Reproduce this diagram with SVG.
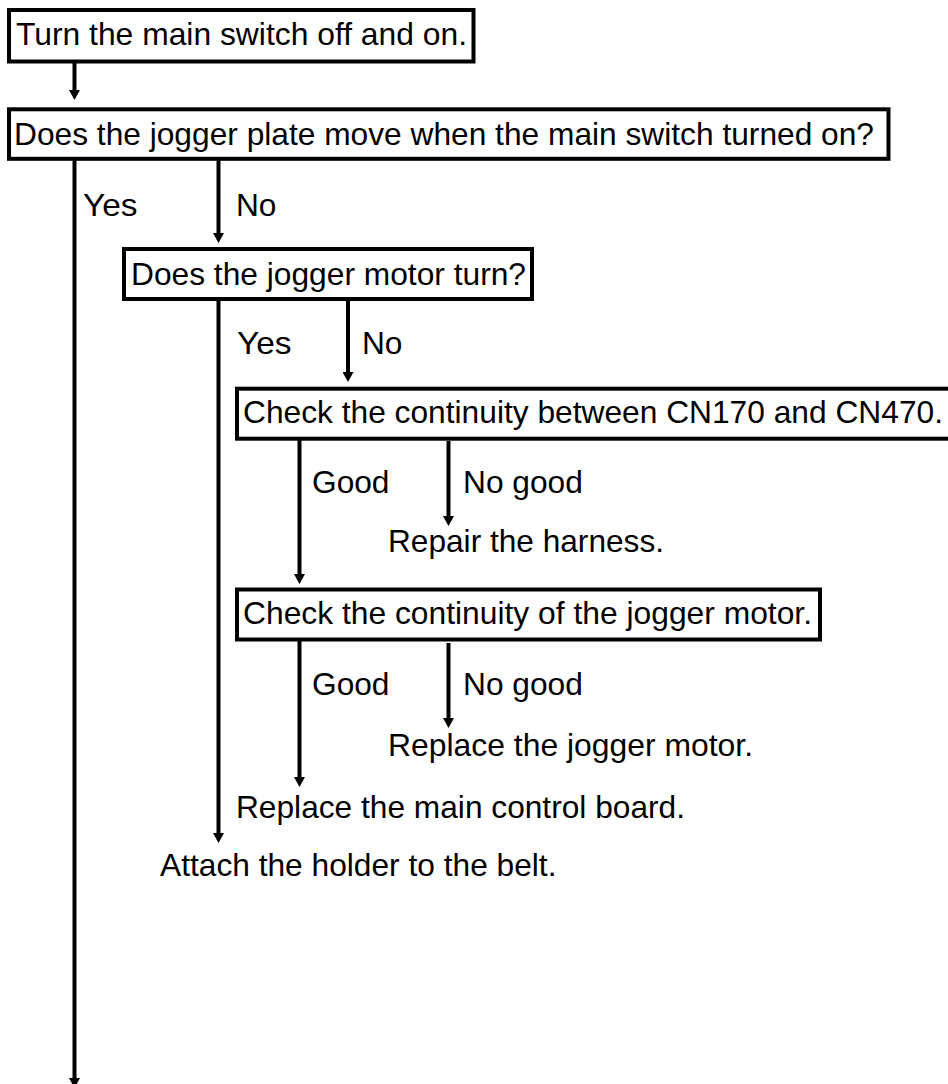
<svg xmlns="http://www.w3.org/2000/svg" width="948" height="1084" viewBox="0 0 948 1084">
<style>
.box{fill:#fff;stroke:#000;stroke-width:4}
.t{font-family:"Liberation Sans",Arial,sans-serif;font-size:30.5px;fill:#000}
.c{stroke:#000;stroke-width:4;fill:none;marker-end:url(#ah)}
</style>
<defs>
<marker id="ah" viewBox="0 0 10 11" markerWidth="10" markerHeight="11" refX="0" refY="5.5" orient="auto" markerUnits="userSpaceOnUse">
<path d="M0,0 L10,5.5 L0,11 z" fill="#000"/>
</marker>
</defs>
<rect width="948" height="1084" fill="#fff"/>
<g id="connectors">
<line class="c" x1="74.5" y1="61" x2="74.5" y2="90"/>
<line class="c" x1="74.5" y1="159" x2="74.5" y2="1078"/>
<line class="c" x1="218.5" y1="159" x2="218.5" y2="233"/>
<line class="c" x1="218.5" y1="299" x2="218.5" y2="833"/>
<line class="c" x1="348" y1="299" x2="348" y2="372"/>
<line class="c" x1="299.5" y1="439" x2="299.5" y2="574"/>
<line class="c" x1="448.5" y1="441" x2="448.5" y2="516"/>
<line class="c" x1="299.5" y1="639" x2="299.5" y2="777"/>
<line class="c" x1="448.5" y1="643" x2="448.5" y2="718"/>
</g>
<g id="labels">
<text class="t" x="83" y="216" textLength="54.6" lengthAdjust="spacingAndGlyphs">Yes</text>
<text class="t" x="236" y="216" textLength="40.5" lengthAdjust="spacingAndGlyphs">No</text>
<text class="t" x="237" y="354" textLength="54.6" lengthAdjust="spacingAndGlyphs">Yes</text>
<text class="t" x="362" y="354" textLength="40.5" lengthAdjust="spacingAndGlyphs">No</text>
<text class="t" x="312" y="493" textLength="77.5" lengthAdjust="spacingAndGlyphs">Good</text>
<text class="t" x="463" y="493" textLength="119.8" lengthAdjust="spacingAndGlyphs">No good</text>
<text class="t" x="312" y="695" textLength="77.5" lengthAdjust="spacingAndGlyphs">Good</text>
<text class="t" x="463" y="695" textLength="119.8" lengthAdjust="spacingAndGlyphs">No good</text>
</g>
<g id="n1">
<rect class="box" x="9" y="10" width="464.5" height="51.5"/>
<text class="t" x="16" y="45" textLength="451" lengthAdjust="spacingAndGlyphs">Turn the main switch off and on.</text>
</g>
<g id="n2">
<rect class="box" x="9" y="109.3" width="879.5" height="49.5"/>
<text class="t" x="14" y="144.5" textLength="860" lengthAdjust="spacingAndGlyphs">Does the jogger plate move when the main switch turned on?</text>
</g>
<g id="n3">
<rect class="box" x="124" y="249" width="408" height="50"/>
<text class="t" x="131" y="284.5" textLength="395" lengthAdjust="spacingAndGlyphs">Does the jogger motor turn?</text>
</g>
<g id="n4">
<rect class="box" x="237" y="388.7" width="716" height="50"/>
<text class="t" x="243" y="423" textLength="700" lengthAdjust="spacingAndGlyphs">Check the continuity between CN170 and CN470.</text>
</g>
<g id="n5">
<text class="t" x="388" y="552" textLength="276" lengthAdjust="spacingAndGlyphs">Repair the harness.</text>
</g>
<g id="n6">
<rect class="box" x="237" y="589.5" width="583" height="50"/>
<text class="t" x="243" y="624" textLength="569" lengthAdjust="spacingAndGlyphs">Check the continuity of the jogger motor.</text>
</g>
<g id="n7">
<text class="t" x="388" y="756" textLength="365" lengthAdjust="spacingAndGlyphs">Replace the jogger motor.</text>
</g>
<g id="n8">
<text class="t" x="236" y="818" textLength="449" lengthAdjust="spacingAndGlyphs">Replace the main control board.</text>
</g>
<g id="n9">
<text class="t" x="160" y="876" textLength="396.5" lengthAdjust="spacingAndGlyphs">Attach the holder to the belt.</text>
</g>
</svg>
